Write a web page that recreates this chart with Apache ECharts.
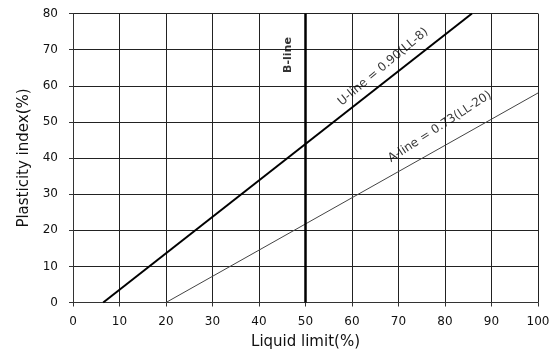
<!DOCTYPE html>
<html>
<head>
<meta charset="utf-8">
<script src="https://cdn.jsdelivr.net/npm/echarts@6/dist/echarts.min.js"></script>
<style>
  html, body { margin: 0; padding: 0; background: #fff; }
  #chart { width: 559px; height: 355px; }
</style>
</head>
<body>
<div id="chart"></div>
<script>
// chart data
var uLine = [[6.5, 0], [85.8, 80]];
var aLine = [[20, 0], [100, 58]];
var bLine = [[50, 0], [50, 80]];
var lineLabels = [
  { name: 'B-line', value: [46.2, 68.5], rotate: 90, bold: true, size: 11 },
  { name: 'U-line = 0.90(LL-8)', value: [66.7, 65.2], rotate: 40, bold: false, size: 12 },
  { name: 'A-line = 0.73(LL-20)', value: [78.9, 48.6], rotate: 33, bold: false, size: 12 }
];

var font = 'DejaVu Sans, sans-serif';
var myChart = echarts.init(document.getElementById('chart'));

var options = {
  animation: false,
  grid: { left: 73, right: 21, top: 13.5, bottom: 52, containLabel: false },
  xAxis: {
    type: 'value', min: 0, max: 100, interval: 10,
    name: 'Liquid limit(%)', nameLocation: 'middle', nameGap: 32.5,
    nameTextStyle: { color: '#111', fontSize: 15, fontFamily: font },
    axisLine: { show: true, lineStyle: { color: '#333', width: 1 } },
    axisTick: { show: true, length: 4, lineStyle: { color: '#333' } },
    axisLabel: { color: '#111', fontSize: 12, fontFamily: font, margin: 13 },
    splitLine: { show: true, lineStyle: { color: '#222', width: 1 } }
  },
  yAxis: {
    type: 'value', min: 0, max: 80, interval: 10,
    name: 'Plasticity index(%)', nameLocation: 'middle', nameGap: 41.5,
    nameTextStyle: { color: '#111', fontSize: 15, fontFamily: font },
    axisLine: { show: true, lineStyle: { color: '#333', width: 1 } },
    axisTick: { show: true, length: 4, lineStyle: { color: '#333' } },
    axisLabel: { color: '#111', fontSize: 12, fontFamily: font, margin: 15 },
    splitLine: { show: true, lineStyle: { color: '#222', width: 1 } }
  },
  series: [
    {
      name: 'U-line', type: 'line', data: uLine, symbol: 'none',
      lineStyle: { color: '#000', width: 2 }
    },
    {
      name: 'A-line', type: 'line', data: aLine, symbol: 'none',
      lineStyle: { color: '#444', width: 1 }
    },
    {
      name: 'B-line', type: 'line', data: bLine, symbol: 'none',
      lineStyle: { color: '#000', width: 2.5 }
    },
    {
      type: 'scatter', symbolSize: 0,
      data: lineLabels.map(function (d) {
        return {
          name: d.name, value: d.value,
          label: {
            show: true, position: 'inside', rotate: d.rotate,
            formatter: '{b}', color: '#000', fontSize: d.size, fontFamily: font,
            fontWeight: d.bold ? 'bold' : 'normal'
          }
        };
      })
    }
  ]
};
myChart.setOption(options);
</script>
</body>
</html>
